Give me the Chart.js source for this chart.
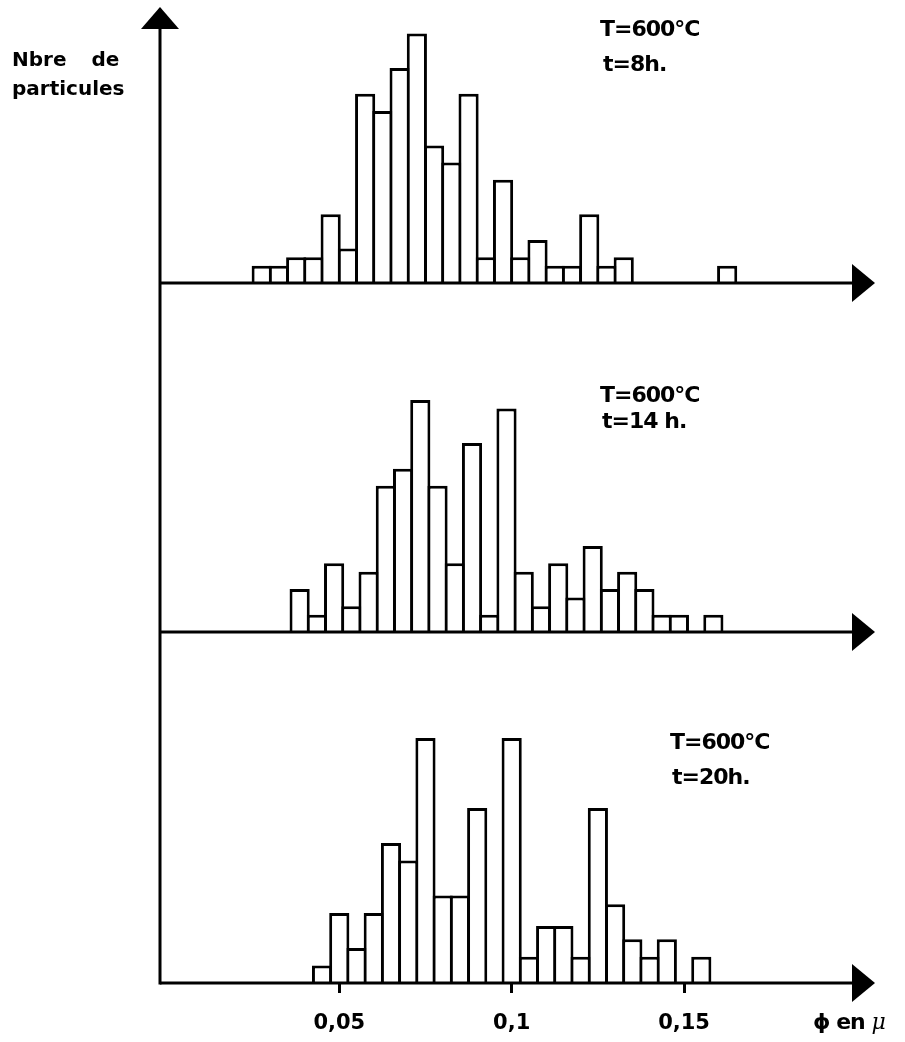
<!DOCTYPE html>
<html lang="fr">

<head>
    <meta charset="UTF-8">
    <title>Distribution des particules - T=600°C</title>
    <script src="https://cdn.jsdelivr.net/npm/chart.js"></script>
    <style>
        body {
            margin: 0;
            background: #fff;
        }

        .figure {
            position: relative;
            width: 905px;
            height: 1042px;
        }

        .lbl {
            position: absolute;
            font-family: "DejaVu Sans", sans-serif;
            font-weight: bold;
            line-height: 1;
            white-space: pre;
            color: #000;
        }

        .axis-name {
            font-size: 20px;
        }

        .panel-name {
            font-size: 22px;
            letter-spacing: -1px;
        }

        .mu {
            font-family: "DejaVu Serif", serif;
            font-style: italic;
            font-weight: normal;
        }
    </style>
</head>

<body>
    <div class="figure">
        <canvas id="histo" width="905" height="1042"></canvas>

        <!-- axis titles -->
        <div class="lbl axis-name" style="left:12px; top:49px; word-spacing:18px;">Nbre de</div>
        <div class="lbl axis-name" style="left:12px; top:78px;">particules</div>
        <div class="lbl panel-name" style="left:813px; top:1011px;">ϕ en <span class="mu">μ</span></div>

        <!-- panel captions -->
        <div class="lbl panel-name" style="left:600px; top:18px;">T=600°C</div>
        <div class="lbl panel-name" style="left:603px; top:53px;">t=8h.</div>
        <div class="lbl panel-name" style="left:600px; top:384px;">T=600°C</div>
        <div class="lbl panel-name" style="left:602px; top:410px;">t=14 h.</div>
        <div class="lbl panel-name" style="left:670px; top:731px;">T=600°C</div>
        <div class="lbl panel-name" style="left:672px; top:766px;">t=20h.</div>
    </div>

    <script>
        // bin centres (diameter, micron) and particle counts
        const bins8h = [0.0275, 0.0325, 0.0375, 0.0425, 0.0475, 0.0525, 0.0575, 0.0625, 0.0675, 0.0725,
            0.0775, 0.0825, 0.0875, 0.0925, 0.0975, 0.1025, 0.1075, 0.1125, 0.1175, 0.1225,
            0.1275, 0.1325, 0.1375, 0.1425, 0.1475, 0.1525, 0.1575, 0.1625];
        const counts8h = [2, 2, 3, 3, 8, 4, 22, 20, 25, 29,
            16, 14, 22, 3, 12, 3, 5, 2, 2, 8,
            2, 3, 0, 0, 0, 0, 0, 2];

        const bins14h = [0.0385, 0.0435, 0.0485, 0.0535, 0.0585, 0.0635, 0.0685, 0.0735, 0.0785, 0.0835,
            0.0885, 0.0935, 0.0985, 0.1035, 0.1085, 0.1135, 0.1185, 0.1235, 0.1285, 0.1335,
            0.1385, 0.1435, 0.1485, 0.1535, 0.1585];
        const counts14h = [5, 2, 8, 3, 7, 17, 19, 27, 17, 8,
            22, 2, 26, 7, 3, 8, 4, 10, 5, 7,
            5, 2, 2, 0, 2];

        const bins20h = [0.045, 0.05, 0.055, 0.06, 0.065, 0.07, 0.075, 0.08, 0.085, 0.09,
            0.095, 0.1, 0.105, 0.11, 0.115, 0.12, 0.125, 0.13, 0.135, 0.14,
            0.145, 0.15, 0.155];
        const counts20h = [2, 8, 4, 8, 16, 14, 28, 10, 10, 20,
            0, 28, 3, 6.5, 6.5, 3, 20, 9, 5, 3,
            5, 0, 3];

        const xTickValues = [0.05, 0.1, 0.15];
        const xTickLabels = ['0,05', '0,1', '0,15'];

        const toPoints = (xs, ys) => xs.map((x, i) => ({ x: x, y: ys[i] }));

        const barStyle = {
            backgroundColor: '#fff',
            borderColor: '#000',
            borderWidth: 3,
            borderSkipped: 'start',
            barPercentage: 1.17,
            categoryPercentage: 1,
            grouped: false
        };

        const xRange = { min: -0.002, max: 0.199 };

        // hidden y axis for one panel, stacked with the others
        function panelAxis(max, weight) {
            return {
                type: 'linear',
                display: false,
                stack: 'panels',
                stackWeight: weight,
                min: 0,
                max: max
            };
        }

        // baselines, arrows and the vertical axis
        const axesPlugin = {
            id: 'axes',
            afterDatasetsDraw(chart) {
                const { ctx, chartArea: a, scales } = chart;
                const bases = ['y8', 'y14', 'y20'].map(id => scales[id].getPixelForValue(0));
                const bottom = Math.max.apply(null, bases);
                ctx.save();
                ctx.strokeStyle = '#000';
                ctx.fillStyle = '#000';
                ctx.lineWidth = 3;

                ctx.beginPath();
                ctx.moveTo(a.left, a.top);
                ctx.lineTo(a.left, bottom + 1.5);
                ctx.stroke();
                ctx.beginPath();
                ctx.moveTo(a.left, a.top - 21);
                ctx.lineTo(a.left - 19, a.top + 1);
                ctx.lineTo(a.left + 19, a.top + 1);
                ctx.closePath();
                ctx.fill();

                bases.forEach(y => {
                    ctx.beginPath();
                    ctx.moveTo(a.left, y);
                    ctx.lineTo(a.right, y);
                    ctx.stroke();
                    ctx.beginPath();
                    ctx.moveTo(a.right + 22, y);
                    ctx.lineTo(a.right - 1, y - 19);
                    ctx.lineTo(a.right - 1, y + 19);
                    ctx.closePath();
                    ctx.fill();
                });
                ctx.restore();
            }
        };

        const ctx = document.getElementById('histo').getContext('2d');
        new Chart(ctx, {
            type: 'bar',
            data: {
                datasets: [
                    Object.assign({ label: 't=8h.', data: toPoints(bins8h, counts8h), xAxisID: 'x8', yAxisID: 'y8' }, barStyle),
                    Object.assign({ label: 't=14 h.', data: toPoints(bins14h, counts14h), xAxisID: 'x14', yAxisID: 'y14' }, barStyle),
                    Object.assign({ label: 't=20h.', data: toPoints(bins20h, counts20h), xAxisID: 'x', yAxisID: 'y20' }, barStyle)
                ]
            },
            options: {
                responsive: false,
                animation: false,
                layout: {
                    padding: { top: 28, left: 160, right: 52, bottom: 0 }
                },
                plugins: {
                    legend: { display: false },
                    tooltip: { enabled: false }
                },
                scales: {
                    // left boxes are laid out in reverse order: bottom panel first
                    y20: panelAxis(40.1, 351),
                    y14: panelAxis(40.6, 349),
                    y8: panelAxis(29.65, 255),
                    x8: Object.assign({ type: 'linear', display: false, offset: false }, xRange),
                    x14: Object.assign({ type: 'linear', display: false, offset: false }, xRange),
                    x: Object.assign({
                        type: 'linear',
                        position: 'bottom',
                        offset: false,
                        border: { display: false },
                        grid: {
                            offset: false,
                            drawOnChartArea: false,
                            drawTicks: true,
                            tickLength: 10,
                            tickWidth: 3,
                            tickColor: '#000'
                        },
                        afterBuildTicks: scale => {
                            scale.ticks = xTickValues.map(v => ({ value: v }));
                        },
                        afterFit: scale => {
                            scale.height = 59;
                        },
                        ticks: {
                            color: '#000',
                            padding: 18,
                            maxRotation: 0,
                            font: { family: 'DejaVu Sans', size: 21, weight: 'bold' },
                            callback: (value, index) => xTickLabels[index]
                        }
                    }, xRange)
                }
            },
            plugins: [axesPlugin]
        });
    </script>
</body>

</html>
